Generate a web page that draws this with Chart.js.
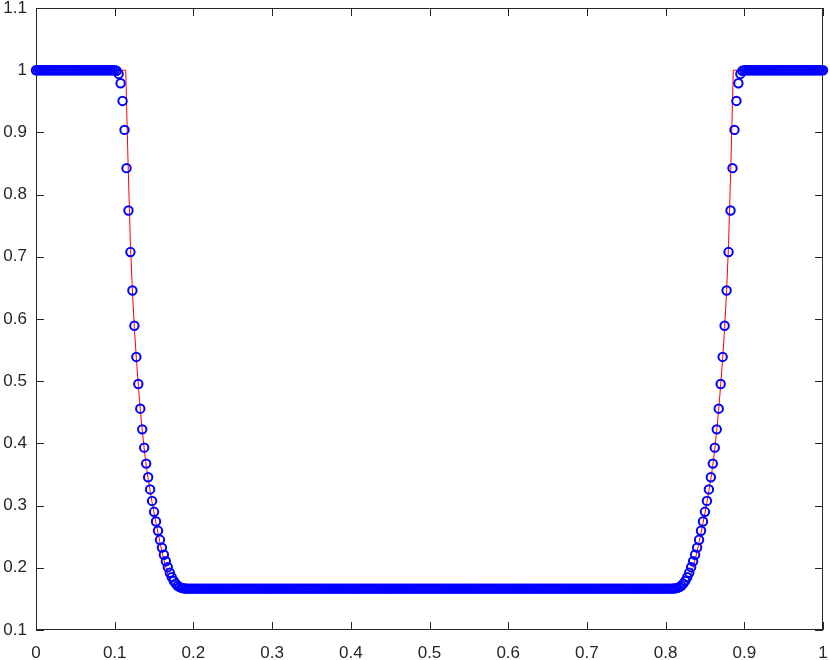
<!DOCTYPE html>
<html>
<head>
<meta charset="utf-8">
<script src="https://cdn.jsdelivr.net/npm/chart.js@4/dist/chart.umd.min.js"></script>
<style>
  html, body { margin: 0; padding: 0; background: #fff; }
  canvas { display: block; }
</style>
</head>
<body>
<canvas id="myChart" width="830" height="660"></canvas>
<script>
// grid spacing of the numerical solution (401 nodes on [0,1])
const xStep = 0.0025;

// numerical solution (blue circles), read node by node
const leftShoulder = [
  1,1,1,1,1,1,1,1,1,1,
  1,1,1,1,1,1,1,1,1,1,
  1,1,1,1,1,1,1,1,1,1,
  1,1,1,1,1,1,1,1,1,1,
  1
];
const leftFan = [
  0.999,0.994,0.979,0.9506,0.904,0.8425,0.7744,0.7076,0.6459,0.5892,
  0.539,0.4955,0.4558,0.4226,0.3932,0.3675,0.3455,0.326,0.3075,0.29,
  0.2745,0.2595,0.245,0.2325,0.221,0.2105,0.201,0.192,0.185,0.179,
  0.1745,0.1712,0.169,0.1677,0.167,0.1667,0.1665
];
const floorPart = [
  0.1665,0.1665,0.1665,0.1665,0.1665,0.1665,0.1665,0.1665,0.1665,0.1665,
  0.1665,0.1665,0.1665,0.1665,0.1665,0.1665,0.1665,0.1665,0.1665,0.1665,
  0.1665,0.1665,0.1665,0.1665,0.1665,0.1665,0.1665,0.1665,0.1665,0.1665,
  0.1665,0.1665,0.1665,0.1665,0.1665,0.1665,0.1665,0.1665,0.1665,0.1665,
  0.1665,0.1665,0.1665,0.1665,0.1665,0.1665,0.1665,0.1665,0.1665,0.1665,
  0.1665,0.1665,0.1665,0.1665,0.1665,0.1665,0.1665,0.1665,0.1665,0.1665,
  0.1665,0.1665,0.1665,0.1665,0.1665,0.1665,0.1665,0.1665,0.1665,0.1665,
  0.1665,0.1665,0.1665,0.1665,0.1665,0.1665,0.1665,0.1665,0.1665,0.1665,
  0.1665,0.1665,0.1665,0.1665,0.1665,0.1665,0.1665,0.1665,0.1665,0.1665,
  0.1665,0.1665,0.1665,0.1665,0.1665,0.1665,0.1665,0.1665,0.1665,0.1665,
  0.1665,0.1665,0.1665,0.1665,0.1665,0.1665,0.1665,0.1665,0.1665,0.1665,
  0.1665,0.1665,0.1665,0.1665,0.1665,0.1665,0.1665,0.1665,0.1665,0.1665,
  0.1665,0.1665,0.1665,0.1665,0.1665,0.1665,0.1665,0.1665,0.1665,0.1665,
  0.1665,0.1665,0.1665,0.1665,0.1665,0.1665,0.1665,0.1665,0.1665,0.1665,
  0.1665,0.1665,0.1665,0.1665,0.1665,0.1665,0.1665,0.1665,0.1665,0.1665,
  0.1665,0.1665,0.1665,0.1665,0.1665,0.1665,0.1665,0.1665,0.1665,0.1665,
  0.1665,0.1665,0.1665,0.1665,0.1665,0.1665,0.1665,0.1665,0.1665,0.1665,
  0.1665,0.1665,0.1665,0.1665,0.1665,0.1665,0.1665,0.1665,0.1665,0.1665,
  0.1665,0.1665,0.1665,0.1665,0.1665,0.1665,0.1665,0.1665,0.1665,0.1665,
  0.1665,0.1665,0.1665,0.1665,0.1665,0.1665,0.1665,0.1665,0.1665,0.1665,
  0.1665,0.1665,0.1665,0.1665,0.1665,0.1665,0.1665,0.1665,0.1665,0.1665,
  0.1665,0.1665,0.1665,0.1665,0.1665,0.1665,0.1665,0.1665,0.1665,0.1665,
  0.1665,0.1665,0.1665,0.1665,0.1665,0.1665,0.1665,0.1665,0.1665,0.1665,
  0.1665,0.1665,0.1665,0.1665,0.1665,0.1665,0.1665,0.1665,0.1665,0.1665,
  0.1665,0.1665,0.1665,0.1665,0.1665
];
const rightFan = [
  0.1665,0.1667,0.167,0.1677,0.169,0.1712,0.1745,0.179,0.185,0.192,
  0.201,0.2105,0.221,0.2325,0.245,0.2595,0.2745,0.29,0.3075,0.326,
  0.3455,0.3675,0.3932,0.4226,0.4558,0.4955,0.539,0.5892,0.6459,0.7076,
  0.7744,0.8425,0.904,0.9506,0.979,0.994,0.999
];
const rightShoulder = [
  1,1,1,1,1,1,1,1,1,1,
  1,1,1,1,1,1,1,1,1,1,
  1,1,1,1,1,1,1,1,1,1,
  1,1,1,1,1,1,1,1,1,1,
  1
];

// reference solution (red line)
const exactX = [0, 0.114, 0.117, 0.12, 0.1225, 0.125, 0.1275, 0.13, 0.1325, 0.135, 0.1375, 0.14,
  0.1425, 0.145, 0.1475, 0.15, 0.1525, 0.155, 0.1575, 0.16, 0.1625, 0.165, 0.1675, 0.17, 0.1725,
  0.175, 0.1775,
  0.8225, 0.825, 0.8275, 0.83, 0.8325, 0.835, 0.8375, 0.84, 0.8425, 0.845, 0.8475, 0.85, 0.8525,
  0.855, 0.8575, 0.86, 0.8625, 0.865, 0.8675, 0.87, 0.8725, 0.875, 0.8775, 0.88, 0.883, 0.886, 1];
const exactY = [1, 1, 0.85, 0.72, 0.645, 0.585, 0.537, 0.494, 0.455, 0.421, 0.391, 0.365,
  0.343, 0.324, 0.305, 0.288, 0.272, 0.256, 0.241, 0.226, 0.213, 0.201, 0.19, 0.181, 0.174,
  0.169, 0.1665,
  0.1665, 0.169, 0.174, 0.181, 0.19, 0.201, 0.213, 0.226, 0.241, 0.256, 0.272, 0.288, 0.305,
  0.324, 0.343, 0.365, 0.391, 0.421, 0.455, 0.494, 0.537, 0.585, 0.645, 0.72, 0.85, 1, 1];

const xTicks = [0, 0.1, 0.2, 0.3, 0.4, 0.5, 0.6, 0.7, 0.8, 0.9, 1];
const xTickLabels = ['0', '0.1', '0.2', '0.3', '0.4', '0.5', '0.6', '0.7', '0.8', '0.9', '1'];
const yTicks = [0.1, 0.2, 0.3, 0.4, 0.5, 0.6, 0.7, 0.8, 0.9, 1, 1.1];
const yTickLabels = ['0.1', '0.2', '0.3', '0.4', '0.5', '0.6', '0.7', '0.8', '0.9', '1', '1.1'];

const numY = leftShoulder.concat(leftFan, floorPart, rightFan, rightShoulder);
const numPoints = numY.map((v, i) => ({ x: i * xStep, y: v }));
const exactPoints = exactX.map((v, i) => ({ x: v, y: exactY[i] }));

const axisColor = '#262626';
const tickFont = { family: "'Liberation Sans', Arial, sans-serif", size: 17 };

// MATLAB-like box with inward ticks on all four sides
const boxAxes = {
  id: 'boxAxes',
  beforeDatasetsDraw(chart) {
    const { ctx, chartArea: a, scales } = chart;
    const len = 8;
    ctx.save();
    ctx.strokeStyle = axisColor;
    ctx.lineWidth = 1;
    ctx.beginPath();
    ctx.rect(a.left + 0.5, a.top + 0.5, a.right - a.left - 1, a.bottom - a.top - 1);
    xTicks.forEach(v => {
      const px = Math.round(scales.x.getPixelForValue(v)) + 0.5;
      ctx.moveTo(px, a.bottom); ctx.lineTo(px, a.bottom - len);
      ctx.moveTo(px, a.top); ctx.lineTo(px, a.top + len);
    });
    yTicks.forEach(v => {
      const py = Math.round(scales.y.getPixelForValue(v)) + 0.5;
      ctx.moveTo(a.left, py); ctx.lineTo(a.left + len, py);
      ctx.moveTo(a.right, py); ctx.lineTo(a.right - len, py);
    });
    ctx.stroke();
    ctx.restore();
  }
};

const ctx = document.getElementById('myChart').getContext('2d');

const chart = new Chart(ctx, {
  type: 'scatter',
  data: {
    datasets: [
      {
        label: 'numerical',
        data: numPoints,
        showLine: false,
        pointStyle: 'circle',
        pointRadius: 4.2,
        pointHoverRadius: 4.2,
        pointBorderWidth: 2,
        pointBorderColor: '#0000ff',
        pointBackgroundColor: 'rgba(0,0,0,0)',
        clip: false
      },
      {
        label: 'exact',
        data: exactPoints,
        showLine: true,
        pointRadius: 0,
        borderColor: '#ff0000',
        borderWidth: 1,
        fill: false
      }
    ]
  },
  options: {
    responsive: false,
    animation: false,
    devicePixelRatio: 1,
    layout: { padding: { top: 8, right: 7, left: 0, bottom: 0 } },
    plugins: { legend: { display: false }, tooltip: { enabled: false } },
    scales: {
      x: {
        type: 'linear',
        min: 0,
        max: 1,
        grid: { display: false, drawTicks: false },
        border: { display: false },
        afterBuildTicks: s => { s.ticks = xTicks.map(v => ({ value: v })); },
        afterFit: s => { s.height = 30; s.paddingLeft = 0; s.paddingRight = 0; },
        ticks: {
          autoSkip: false,
          maxRotation: 0,
          padding: 13,
          color: axisColor,
          font: tickFont,
          callback: (v, i) => xTickLabels[i]
        }
      },
      y: {
        type: 'linear',
        min: 0.1,
        max: 1.1,
        grid: { display: false, drawTicks: false },
        border: { display: false },
        afterBuildTicks: s => { s.ticks = yTicks.map(v => ({ value: v })); },
        afterFit: s => { s.width = 36; s.paddingTop = 0; s.paddingBottom = 0; },
        ticks: {
          autoSkip: false,
          padding: 9,
          color: axisColor,
          font: tickFont,
          callback: (v, i) => yTickLabels[i]
        }
      }
    }
  },
  plugins: [boxAxes]
});
</script>
</body>
</html>
